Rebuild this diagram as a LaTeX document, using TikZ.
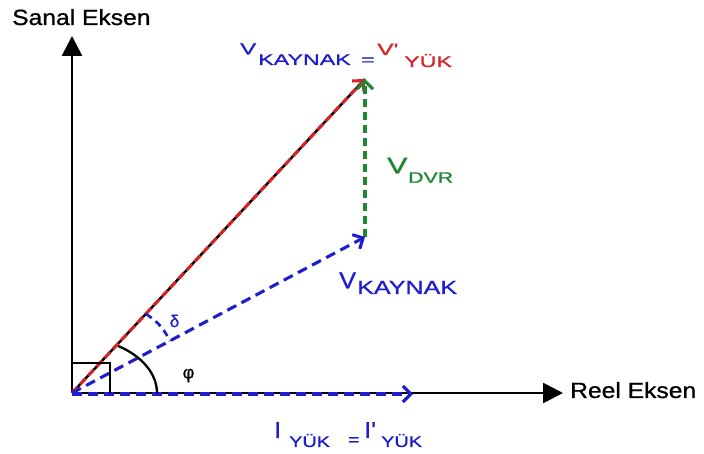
\documentclass[tikz,border=0pt]{standalone}
\usepackage{fontspec}
\setmainfont{Liberation Sans}
\usetikzlibrary{arrows.meta}
\definecolor{vblue}{RGB}{30,30,205}
\definecolor{vred}{RGB}{215,35,40}
\definecolor{vgreen}{RGB}{30,135,50}
\newcommand{\sxt}[3]{\scalebox{#1}[1]{\fontsize{#2}{#2}\selectfont\addfontfeature{FakeBold=0.8}#3}}
\begin{document}
\begin{tikzpicture}[x=1pt,y=1pt,
  axis/.style={line width=2.7pt,-{Triangle[length=20pt,width=20pt]}},
  vecline/.style={line width=3.1pt,-{Straight Barb[length=8pt,width=16pt]}},
  lbl/.style={inner sep=0pt,anchor=base west},
]
\useasboundingbox[fill=white] (0,0) rectangle (704,454);
% points
\coordinate (O) at (72,61);
\coordinate (Ytip) at (72,418);
\coordinate (Xtip) at (563,61);
\coordinate (T) at (365,375);
\coordinate (B) at (365,217);
\coordinate (Ostart) at (72,60);
\coordinate (Itip) at (413,60);
% axes
\draw[axis] (O) -- (Ytip);
\draw[axis] (O) -- (Xtip);
% load voltage (black)
\draw[line width=2.5pt] (O) -- (T);
% red dashed V'
\draw[vecline,vred,dash pattern=on 8pt off 4pt] (O) -- (T);
% green dashed DVR
\draw[vecline,vgreen,dash pattern=on 8pt off 5pt] (B) -- (T);
% blue dashed V source
\draw[vecline,vblue,dash pattern=on 10pt off 6pt] (O) -- (B);
% blue dashed current
\draw[vecline,vblue,dash pattern=on 10pt off 6pt] (Ostart) -- (Itip);
% right angle square
\draw[line width=2.3pt] (72,91) -- (110,91) -- (110,61);
% phi arc
\coordinate (phiA) at (157,61);
\draw[line width=2.3pt] (phiA) arc[start angle=0,end angle=57,x radius=85,y radius=56];
% delta arc
\coordinate (dA) at (146,140);
\coordinate (dB) at (170,113);
\draw[vblue,line width=2.7pt,dash pattern=on 7pt off 5pt] (dA) to[bend left=15] (dB);
% labels
\node[lbl] (sanal) at (12,429) {\sxt{1.12}{22}{Sanal Eksen}};
\node[lbl] (reel) at (570,56) {\sxt{1.12}{22}{Reel Eksen}};
\node[inner sep=0pt,vblue] (delta) at (174.5,133) {\fontsize{17}{17}\selectfont\addfontfeature{FakeBold=0.8}δ};
\node[inner sep=0pt] (phi) at (188.5,78.5) {\fontsize{18}{18}\selectfont\addfontfeature{FakeBold=0.8}φ};
% top label
\node[lbl,vblue] (tv) at (240,399.7) {\sxt{1.5}{16}{V}};
\node[lbl,vblue] (tk) at (258,389) {\sxt{1.5}{15.5}{KAYNAK}};
\node[lbl,vblue] (teq) at (361,389) {\sxt{1.5}{15.5}{=}};
\node[lbl,vred] (tvp) at (377,399) {\sxt{1.5}{16.5}{V\textquotesingle}};
\node[lbl,vred] (ty) at (404,387) {\sxt{1.5}{15.5}{YÜK}};
% DVR label
\node[lbl,vgreen] (dv) at (387,280.7) {\sxt{1.35}{22.5}{V}};
\node[lbl,vgreen] (dd) at (408,271.3) {\sxt{1.42}{15}{DVR}};
% V source label
\node[lbl,vblue] (kv) at (339,165.7) {\sxt{1.1}{23}{V}};
\node[lbl,vblue] (kk) at (357,160) {\sxt{1.32}{19}{KAYNAK}};
% current label
\node[lbl,vblue] (ii) at (274,16) {\sxt{1.1}{23}{I}};
\node[lbl,vblue] (iy) at (289,7) {\sxt{1.28}{15.5}{YÜK}};
\node[lbl,vblue] (ieq) at (348,9) {\sxt{1.2}{16}{=}};
\node[lbl,vblue] (iip) at (364,16) {\sxt{1.1}{23}{I\textquotesingle}};
\node[lbl,vblue] (iyp) at (381,7) {\sxt{1.28}{15.5}{YÜK}};
\end{tikzpicture}
\end{document}
